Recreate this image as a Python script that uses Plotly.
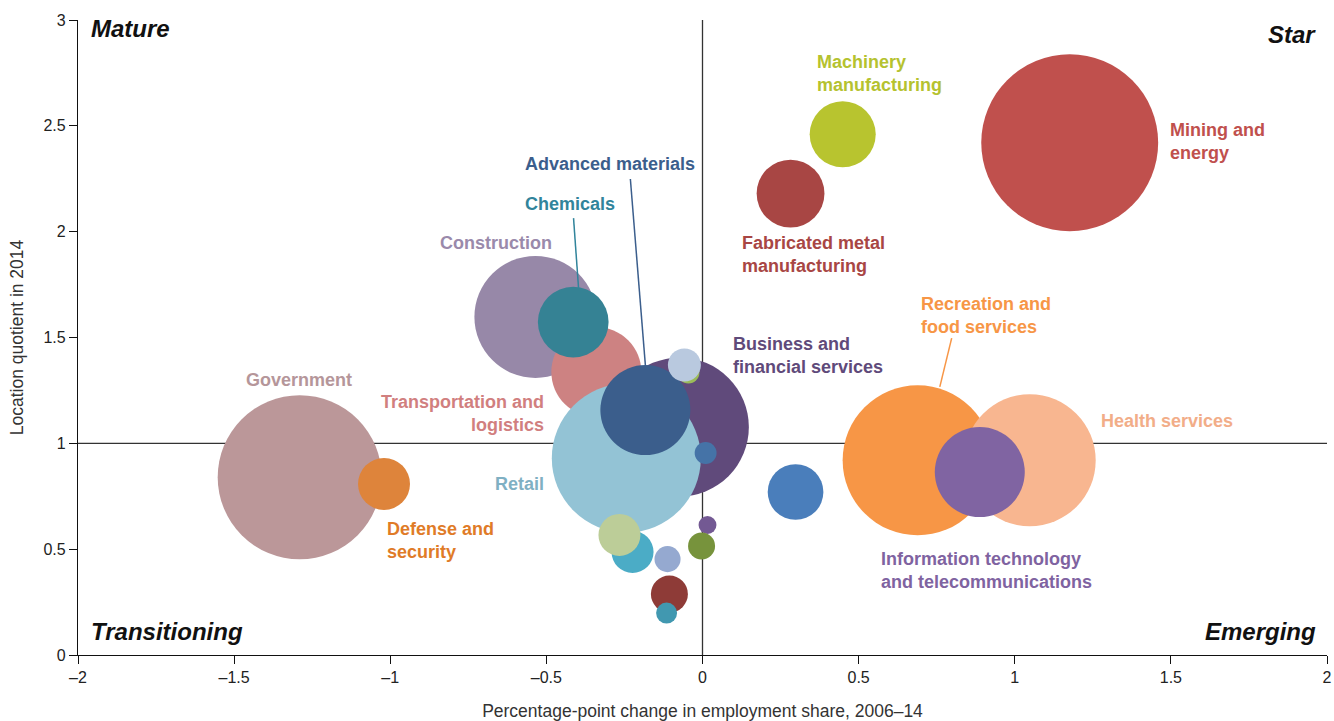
"""Bubble chart: employment-share change vs location quotient by industry."""

import plotly.graph_objects as go

FONT = "Liberation Sans, Arial, Helvetica, sans-serif"

# --- data --------------------------------------------------------------
industries = [
    "Government", "Defense and security", "Construction",
    "Transportation and logistics", "Chemicals", "Business and financial services",
    "Retail", "Advanced materials", "Other A", "Other B", "Other C", "Other D",
    "Other E", "Other F", "Other G", "Other H", "Other I", "Other J",
    "Fabricated metal manufacturing", "Machinery manufacturing", "Mining and energy",
    "Other K", "Recreation and food services", "Health services",
    "Information technology and telecommunications",
]
emp_change = [
    -1.29, -1.02, -0.535, -0.34, -0.414, -0.074,
    -0.244, -0.183, -0.045, -0.058, 0.01, 0.016,
    -0.003, -0.224, -0.266, -0.112, -0.106, -0.115,
    0.282, 0.449, 1.176,
    0.298, 0.689, 1.048, 0.888,
]
location_quotient = [
    0.84, 0.808, 1.597, 1.337, 1.573, 1.077,
    0.93, 1.157, 1.335, 1.37, 0.954, 0.614,
    0.515, 0.487, 0.567, 0.453, 0.288, 0.198,
    2.18, 2.46, 2.42,
    0.77, 0.92, 0.92, 0.864,
]
employment_size = [
    269, 27, 149, 81, 50, 193,
    222, 81, 4.8, 10.9, 4.8, 3.2,
    7.3, 17.6, 17.6, 6.8, 13.7, 4.4,
    46, 43.6, 313,
    31, 225, 174, 81,
]
bubble_colors = [
    "#bb9799", "#de843b", "#9788a8", "#cd8282", "#358294", "#604a7b",
    "#93c3d5", "#3b5e8c", "#9bbb59", "#b9c9df", "#4573a7", "#735993",
    "#77933c", "#4bacc6", "#bccd98", "#95a9d0", "#8e3b37", "#4198b0",
    "#a84644", "#b8c42f", "#c0504d",
    "#4a7ebb", "#f79646", "#f8b690", "#8064a2",
]

x_ticks = [-2, -1.5, -1, -0.5, 0, 0.5, 1, 1.5, 2]
x_ticktext = ["\u20132", "\u20131.5", "\u20131", "\u20130.5", "0", "0.5", "1", "1.5", "2"]
y_ticks = [0, 0.5, 1, 1.5, 2, 2.5, 3]

# labels: text, x, y, colour, anchor
labels = [
    ("Mining and<br>energy", 1.49, 2.426, "#c0504d", "left"),
    ("Machinery<br>manufacturing", 0.359, 2.745, "#b5c22f", "left"),
    ("Fabricated metal<br>manufacturing", 0.119, 1.89, "#a84644", "left"),
    ("Recreation and<br>food services", 0.692, 1.606, "#f79646", "left"),
    ("Health services", 1.269, 1.105, "#f2ad88", "left"),
    ("Information technology<br>and telecommunications", 0.564, 0.397, "#7f63a1", "left"),
    ("Business and<br>financial services", 0.09, 1.417, "#5f4a7a", "left"),
    ("Advanced materials", -0.574, 2.32, "#3b5e8c", "left"),
    ("Chemicals", -0.574, 2.13, "#31849b", "left"),
    ("Construction", -0.846, 1.946, "#9a8aab", "left"),
    ("Transportation and<br>logistics", -0.5, 1.143, "#d17f7f", "right"),
    ("Government", -1.292, 1.299, "#b5969a", "center"),
    ("Retail", -0.5, 0.808, "#7fb0c3", "right"),
    ("Defense and<br>security", -1.016, 0.543, "#e07b27", "left"),
]

leaders = [
    (0.798, 1.497, 0.76, 1.267, "#f79646"),
    (-0.231, 2.249, -0.183, 1.37, "#3b5e8c"),
    (-0.413, 2.064, -0.397, 1.734, "#31849b"),
]

quadrants = [
    ("Mature", -1.965, 2.962, "left"),
    ("Star", 1.971, 2.93, "right"),
    ("Transitioning", -1.965, 0.109, "left"),
    ("Emerging", 1.971, 0.109, "right"),
]

# --- figure ------------------------------------------------------------
fig = go.Figure(go.Scatter(
    x=emp_change, y=location_quotient, mode="markers",
    text=industries,
    marker=dict(
        size=employment_size, sizemode="area", sizeref=0.02,
        color=bubble_colors, opacity=1, line=dict(width=0),
    ),
    hovertemplate="<b>%{text}</b><br>%{x:.2f} pp<br>LQ %{y:.2f}<extra></extra>",
    showlegend=False,
))

# quadrant divider lines
fig.add_shape(type="line", x0=0, x1=0, y0=0, y1=3, layer="below",
              line=dict(color="#333333", width=1.3))
fig.add_shape(type="line", x0=-2, x1=2, y0=1, y1=1, layer="below",
              line=dict(color="#333333", width=1.3))

for x0, y0, x1, y1, c in leaders:
    fig.add_shape(type="line", x0=x0, y0=y0, x1=x1, y1=y1,
                  line=dict(color=c, width=1.5))

for text, x, y, c, anchor in labels:
    fig.add_annotation(x=x, y=y, text=f"<b>{text}</b>", showarrow=False,
                       xanchor=anchor, yanchor="middle", align=anchor,
                       font=dict(family=FONT, size=18, color=c))

for text, x, y, anchor in quadrants:
    fig.add_annotation(x=x, y=y, text=f"<b><i>{text}</i></b>", showarrow=False,
                       xanchor=anchor, yanchor="middle",
                       font=dict(family=FONT, size=24, color="#111111"))

axis_common = dict(
    showgrid=False, zeroline=False, showline=True, linecolor="#111111",
    linewidth=1.3, ticks="outside", ticklen=8, tickwidth=1.3, tickcolor="#111111",
    tickfont=dict(family=FONT, size=16, color="#222222"),
    automargin=False, ticklabeloverflow="allow",
)
fig.update_xaxes(
    range=[-2, 2], tickvals=x_ticks, ticktext=x_ticktext,
    title=dict(text="Percentage-point change in employment share, 2006\u201314",
               font=dict(family=FONT, size=17.5, color="#333333"), standoff=22),
    **axis_common,
)
fig.update_yaxes(
    range=[0, 3], tickvals=y_ticks,
    title=dict(text="Location quotient in 2014",
               font=dict(family=FONT, size=17.5, color="#333333")),
    **axis_common,
)
fig.update_layout(
    width=1334, height=721,
    margin=dict(l=78, r=7, t=20, b=66),
    plot_bgcolor="white", paper_bgcolor="white",
    font=dict(family=FONT),
)

# drop the default 8px page margin so the figure fills the window exactly
fig.write_html("out.html", config={"displayModeBar": False},
               post_script="document.body.style.margin = '0';")
